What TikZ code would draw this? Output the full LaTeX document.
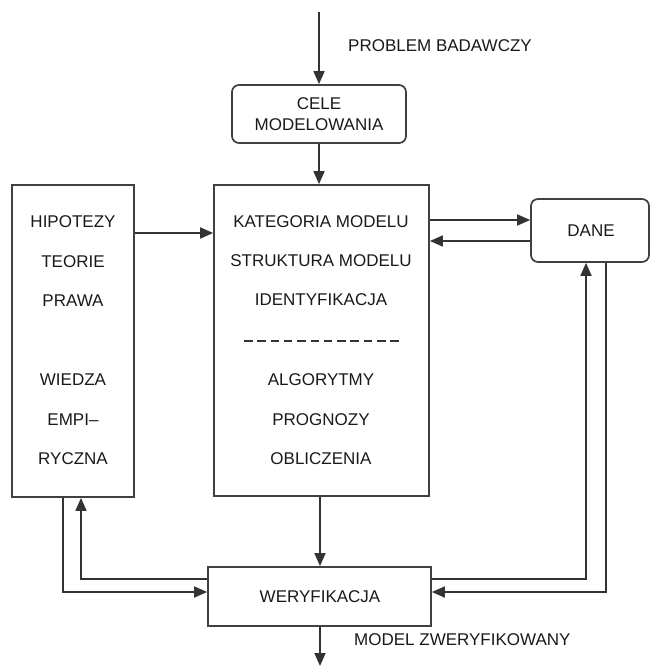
\documentclass[tikz,border=0pt]{standalone}
\usepackage{fontspec}
\setmainfont{Liberation Sans}
\usetikzlibrary{arrows.meta,calc}
\begin{document}
\begin{tikzpicture}[x=1pt,y=-1pt,
  every node/.style={font=\fontsize{17}{20}\selectfont, text=black!90},
  box/.style={draw=black!75, line width=1.7pt, inner sep=0pt},
  rbox/.style={box, rounded corners=7pt},
  txt/.style={inner sep=0pt, anchor=center},
  lab/.style={inner sep=0pt, anchor=west},
  conn/.style={draw=black!80, line width=1.7pt},
  arr/.style={conn, -{Triangle[length=13pt,width=11pt]}},
]
\useasboundingbox (0,0) rectangle (652,668);
% boxes
\node[rbox, minimum width=174pt, minimum height=58pt] (cele) at (319,114) {};
\node[txt] (celeA) at (319,104) {CELE};
\node[txt] (celeB) at (319,125) {MODELOWANIA};
\node[box, minimum width=215pt, minimum height=311pt] (main) at (321.5,340.5) {};
\node[box, minimum width=122pt, minimum height=312pt] (left) at (73,341) {};
\node[rbox, minimum width=118pt, minimum height=63pt] (dane) at (590,230.5) {};
\node[txt] (daneT) at (591,231) {DANE};
\node[box, minimum width=223pt, minimum height=59pt] (wer) at (319.5,596.5) {};
\node[txt] (werT) at (320,597) {WERYFIKACJA};
% main texts
\node[txt] (m1) at (321,222) {KATEGORIA MODELU};
\node[txt] (m2) at (321,261) {STRUKTURA MODELU};
\node[txt] (m3) at (321,300) {IDENTYFIKACJA};
\coordinate (dA) at (244,341);
\coordinate (dB) at (399,341);
\draw[conn, dash pattern=on 8.5pt off 4.8pt] (dA) -- (dB);
\node[txt] (m4) at (321,380) {ALGORYTMY};
\node[txt] (m5) at (321,420) {PROGNOZY};
\node[txt] (m6) at (321,459) {OBLICZENIA};
% left texts
\node[txt] (l1) at (73,222) {HIPOTEZY};
\node[txt] (l2) at (73,262) {TEORIE};
\node[txt] (l3) at (73,301) {PRAWA};
\node[txt] (l4) at (73,380) {WIEDZA};
\node[txt] (l5) at (73,420) {EMPI–};
\node[txt] (l6) at (73,459) {RYCZNA};
% labels
\node[lab] (pb) at (348,46) {PROBLEM BADAWCZY};
\node[lab] (mz) at (354,640) {MODEL ZWERYFIKOWANY};
% connectors
\coordinate (top) at (319,12);
\coordinate (bot) at (320,666);
\draw[arr] (top) -- (cele.north);
\draw[arr] (cele.south) -- (cele.south |- main.north);
\draw[arr] (left.east |- 0,233) -- (main.west |- 0,233);
\draw[arr] (main.east |- 0,220) -- (dane.west |- 0,220);
\draw[arr] (dane.west |- 0,241) -- (main.east |- 0,241);
\draw[arr] (main.south -| 320,0) -- (wer.north -| 320,0);
\draw[arr] (wer.south -| 320,0) -- (bot);
\coordinate (r1) at (586,579);
\coordinate (r2) at (606,592);
\draw[arr] (wer.east |- r1) -- (r1) -- (r1 |- dane.south);
\draw[arr] (r2 |- dane.south) -- (r2) -- (wer.east |- r2);
\coordinate (q1) at (63,592);
\coordinate (q2) at (81,579);
\draw[arr] (q1 |- left.south) -- (q1) -- (wer.west |- q1);
\draw[arr] (wer.west |- q2) -- (q2) -- (q2 |- left.south);
\end{tikzpicture}
\end{document}
